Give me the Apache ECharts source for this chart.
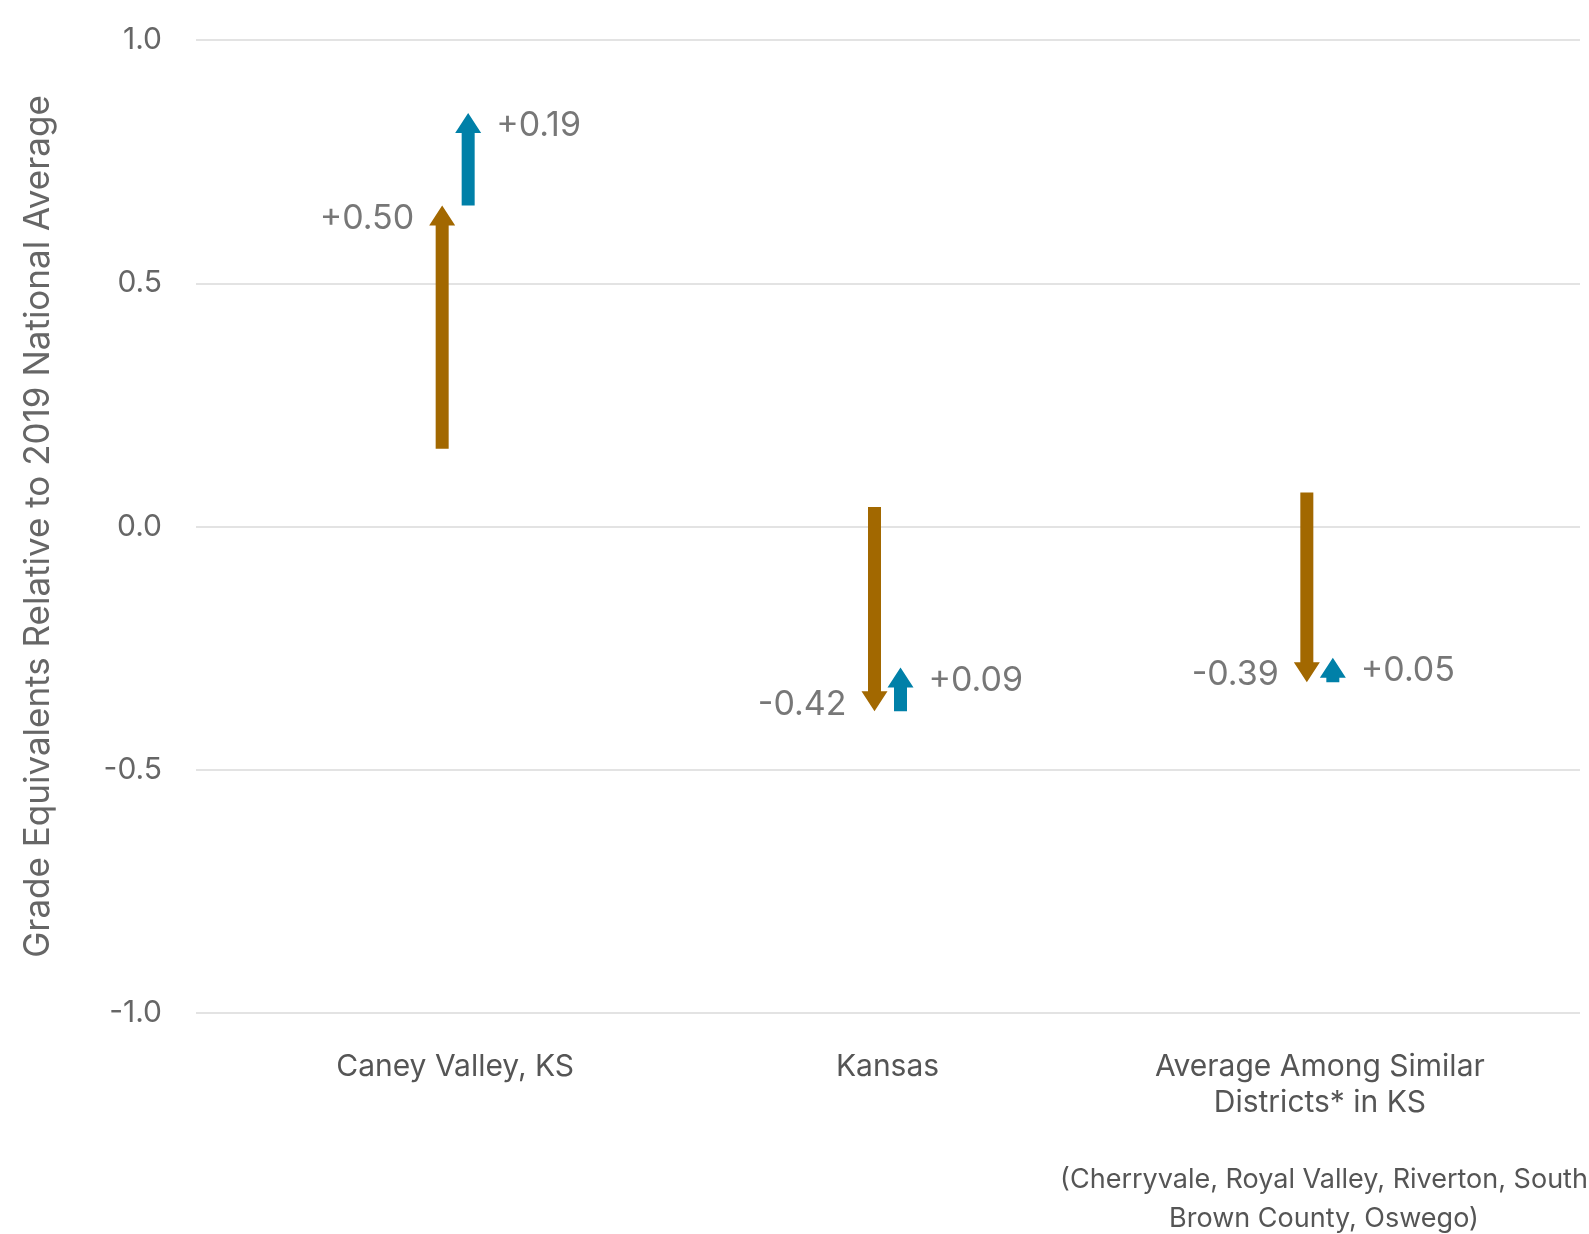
<!DOCTYPE html>
<html>
<head>
<meta charset="utf-8">
<script src="https://cdn.jsdelivr.net/npm/echarts@6/dist/echarts.min.js"></script>
<style>html,body{margin:0;padding:0;background:#fff;}#c{width:1589px;height:1234px;}</style>
</head>
<body>
<div id="c"></div>
<script>
const categories = ['Caney Valley, KS', 'Kansas', 'Average Among Similar\nDistricts* in KS'];
const start2019 = [0.16, 0.04, 0.07];
const pandemicChange = [0.50, -0.42, -0.39];
const recoveryChange = [0.19, 0.09, 0.05];
const yTicks = [-1.0, -0.5, 0.0, 0.5, 1.0];
const footnote = ['(Cherryvale, Royal Valley, Riverton, South', 'Brown County, Oswego)'];

const BROWN = '#A26800';
const BLUE = '#0080A8';
const FONT = 'Inter, "Noto Sans", sans-serif';

const arrows = [];
for (let i = 0; i < categories.length; i++) {
  const mid = +(start2019[i] + pandemicChange[i]).toFixed(3);
  const end = +(mid + recoveryChange[i]).toFixed(3);
  arrows.push([i, start2019[i], mid, 0, pandemicChange[i]]);
  arrows.push([i, mid, end, 1, recoveryChange[i]]);
}

function fmt(v) { return (v >= 0 ? '+' : '-') + Math.abs(v).toFixed(2); }

function renderArrow(params, api) {
  const x = api.value(0), s = api.value(1), e = api.value(2), kind = api.value(3), chg = api.value(4);
  const p0 = api.coord([x, s]);
  const p1 = api.coord([x, e]);
  const off = kind === 0 ? -13 : 13;
  const cx = p0[0] + off;
  const dir = p1[1] < p0[1] ? -1 : 1;
  const headL = 20, headW = 26, shaftW = 13;
  const baseY = p1[1] - dir * headL;
  const color = kind === 0 ? BROWN : BLUE;
  const pts = [
    [cx - shaftW / 2, p0[1]], [cx - shaftW / 2, baseY], [cx - headW / 2, baseY],
    [cx, p1[1]], [cx + headW / 2, baseY], [cx + shaftW / 2, baseY], [cx + shaftW / 2, p0[1]]
  ];
  const headMid = p1[1] - dir * headL / 2 + 3;
  return {
    type: 'group',
    children: [
      { type: 'polygon', shape: { points: pts }, style: { fill: color } },
      { type: 'text', style: {
          text: fmt(chg),
          x: kind === 0 ? cx - headW / 2 - 15 : cx + headW / 2 + 15,
          y: headMid,
          align: kind === 0 ? 'right' : 'left',
          verticalAlign: 'middle',
          fill: '#777777',
          font: '34px ' + FONT
        } }
    ]
  };
}

const chart = echarts.init(document.getElementById('c'));
chart.setOption({
  backgroundColor: '#ffffff',
  animation: false,
  grid: [
    { left: 196, right: 9, top: 40, bottom: 221 },
    { left: 239, width: 1297, top: 40, bottom: 221 }
  ],
  xAxis: [
    { type: 'value', gridIndex: 0, show: false, min: 0, max: 1 },
    { type: 'category', gridIndex: 1, data: categories,
      axisLine: { show: false }, axisTick: { show: false },
      axisLabel: { color: '#555555', fontSize: 30, fontFamily: FONT, lineHeight: 36, margin: 36, interval: 0 } }
  ],
  yAxis: [
    { type: 'value', gridIndex: 0, min: yTicks[0], max: yTicks[yTicks.length - 1], interval: 0.5,
      name: 'Grade Equivalents Relative to 2019 National Average',
      nameLocation: 'middle', nameGap: 140,
      nameTextStyle: { color: '#666666', fontSize: 35, fontFamily: FONT },
      axisLine: { show: false }, axisTick: { show: false },
      splitLine: { lineStyle: { color: '#e3e3e3', width: 2 } },
      axisLabel: { color: '#666666', fontSize: 30, fontFamily: FONT, margin: 34,
        formatter: v => v.toFixed(1) } },
    { type: 'value', gridIndex: 1, min: yTicks[0], max: yTicks[yTicks.length - 1], show: false }
  ],
  series: [{
    type: 'custom',
    xAxisIndex: 1, yAxisIndex: 1,
    renderItem: renderArrow,
    encode: { x: 0, y: [1, 2] },
    data: arrows,
    clip: false
  }],
  graphic: [
    { type: 'text', style: { text: footnote[0], x: 1324, y: 1180, align: 'center', verticalAlign: 'middle', fill: '#555555', font: '27px ' + FONT } },
    { type: 'text', style: { text: footnote[1], x: 1324, y: 1219, align: 'center', verticalAlign: 'middle', fill: '#555555', font: '27px ' + FONT } }
  ]
});
</script>
</body>
</html>
